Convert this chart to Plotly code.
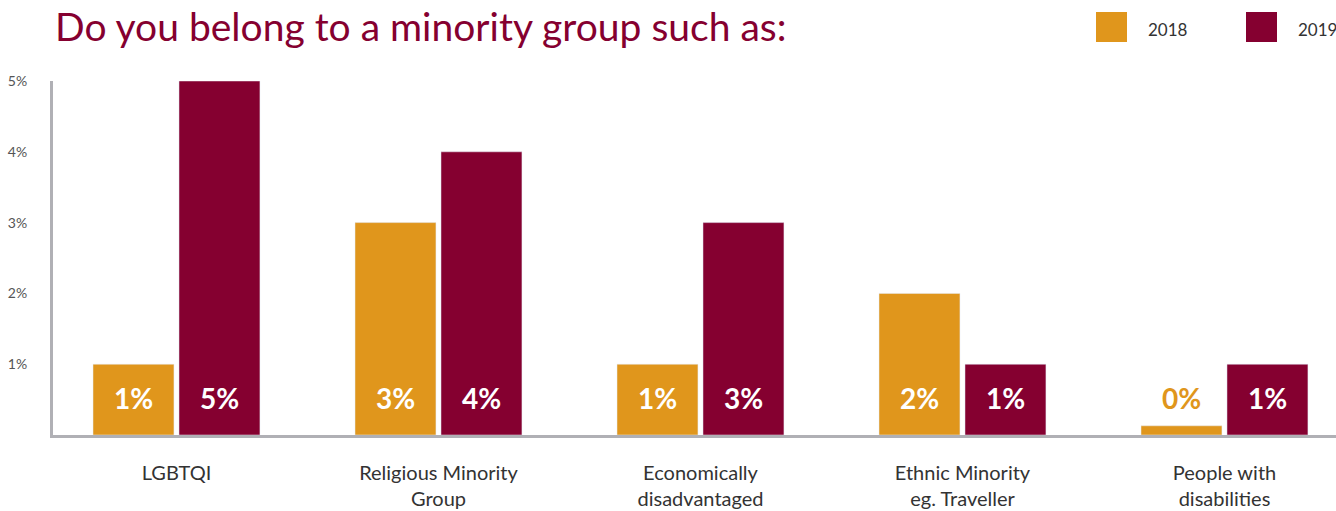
import plotly.graph_objects as go

categories = ["LGBTQI", "Religious Minority<br>Group", "Economically<br>disadvantaged",
              "Ethnic Minority<br>eg. Traveller", "People with<br>disabilities"]
values_2018 = [1, 3, 1, 2, 0.13]
values_2019 = [5, 4, 3, 1, 1]
labels_2018 = ["1%", "3%", "1%", "2%", "0%"]
labels_2019 = ["5%", "4%", "3%", "1%", "1%"]
y_tickvals = [1, 2, 3, 4, 5]
y_ticktext = ["1%", "2%", "3%", "4%", "5%"]

C18 = "#E0961C"
C19 = "#850030"
W, H = 1336, 511
L, R, T, B = 53, 0, 81, 76

fig = go.Figure()
fig.add_trace(go.Bar(x=categories, y=values_2018, name="2018", marker_color=C18,
                     width=0.309, offset=-0.3187, hoverinfo="skip"))
fig.add_trace(go.Bar(x=categories, y=values_2019, name="2019", marker_color=C19,
                     width=0.309, offset=0.0095, hoverinfo="skip"))

label_font = dict(family="Lato", size=28, color="white")
for i, c in enumerate(categories):
    col18 = "white" if values_2018[i] >= 0.6 else C18
    fig.add_annotation(x=c, y=0.52, xref="x", yref="y", text=f"<b>{labels_2018[i]}</b>",
                       showarrow=False, xshift=-43, yanchor="middle",
                       font=dict(family="Lato", size=28, color=col18))
    fig.add_annotation(x=c, y=0.52, xref="x", yref="y", text=f"<b>{labels_2019[i]}</b>",
                       showarrow=False, xshift=43, yanchor="middle", font=label_font)

pw, ph = W - L - R, H - T - B
def px(xp):
    return (xp - L) / pw
def py(yp):
    return (H - B - yp) / ph

# title
fig.add_annotation(x=0, y=py(26), xref="paper", yref="paper", xanchor="left", yanchor="middle",
                   text="Do you belong to a minority group such as:", showarrow=False,
                   font=dict(family="Lato", size=39, color=C19))
# legend
for x0, col, name in [(1096, C18, "2018"), (1246, C19, "2019")]:
    fig.add_shape(type="rect", xref="paper", yref="paper", x0=px(x0), x1=px(x0 + 31),
                  y0=py(42), y1=py(12), fillcolor=col, line_width=0)
    fig.add_annotation(x=px(x0 + 50), y=py(29), xref="paper", yref="paper", xanchor="left",
                       yanchor="middle", text=name, showarrow=False,
                       font=dict(family="Lato", size=17, color="#333333"))

fig.update_layout(
    width=W, height=H, margin=dict(l=L, r=R, t=T, b=B),
    paper_bgcolor="white", plot_bgcolor="white", showlegend=False, barmode="overlay",
    font=dict(family="Lato", color="#333333"),
)
fig.update_xaxes(type="category", range=[-0.4714, 4.4256], showgrid=False, showline=True,
                 linecolor="#B0B0B5", linewidth=3, ticks="outside", ticklen=18,
                 tickcolor="rgba(0,0,0,0)", tickfont=dict(family="Lato", size=20, color="#333333"))
fig.update_yaxes(range=[0, 5], showgrid=False, zeroline=False, showline=True,
                 linecolor="#B0B0B5", linewidth=3, tickvals=y_tickvals, ticktext=y_ticktext,
                 ticks="outside", ticklen=20, tickcolor="rgba(0,0,0,0)",
                 tickfont=dict(family="Lato", size=14, color="#555555"))

fig.write_html("out.html")
